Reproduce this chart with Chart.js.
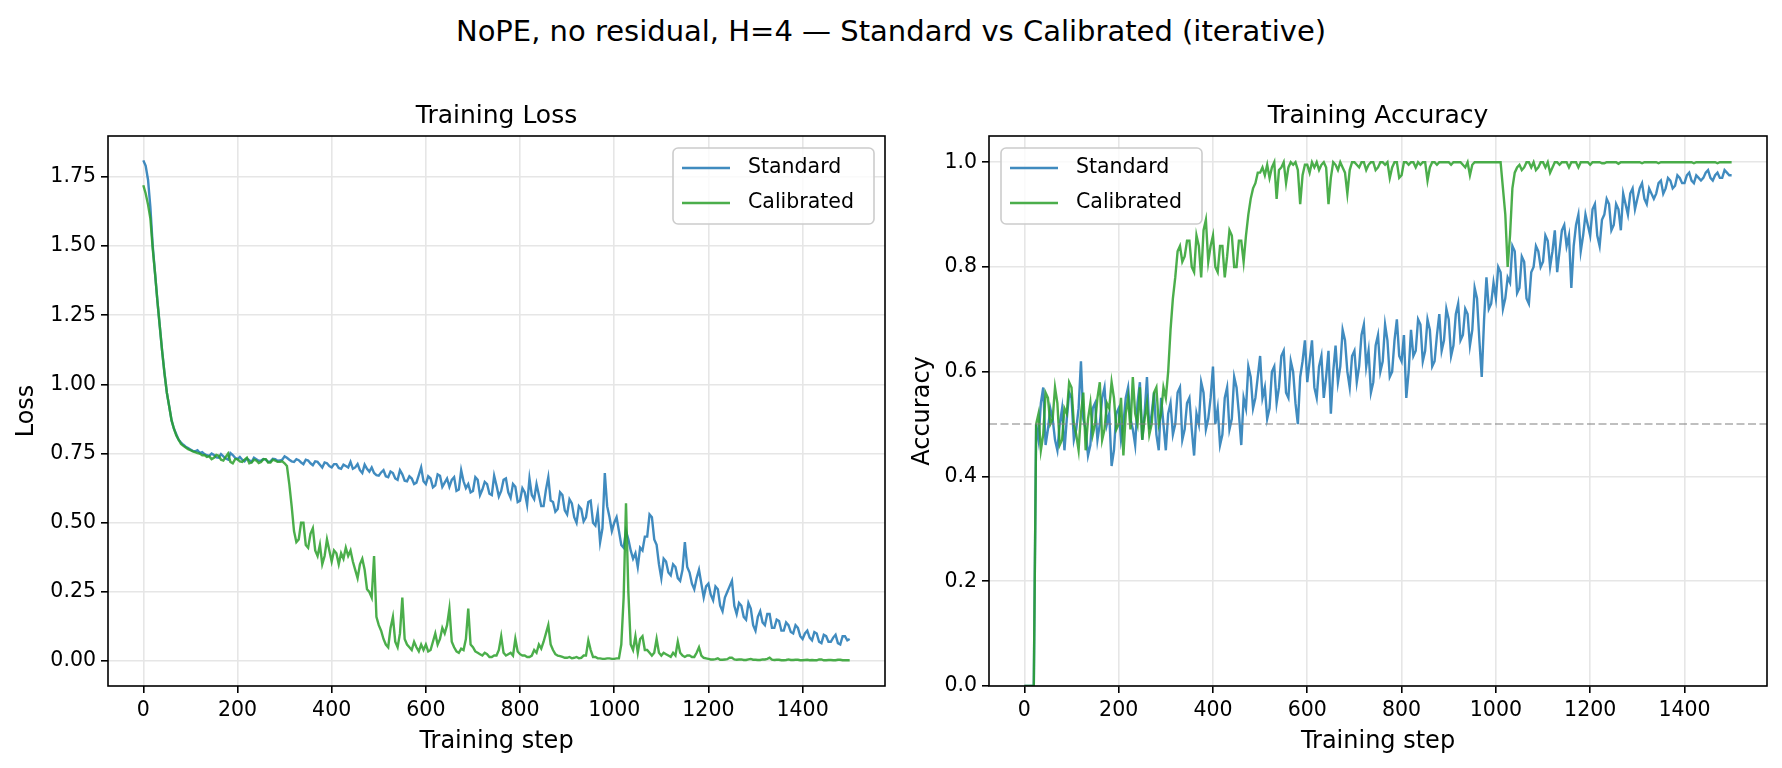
<!DOCTYPE html>
<html>
<head>
<meta charset="utf-8">
<title>NoPE, no residual, H=4</title>
<script src="https://cdn.jsdelivr.net/npm/chart.js@4.4.1/dist/chart.umd.min.js"></script>
<style>
  body { margin: 0; background: #fff; }
  #page { position: relative; width: 1782px; height: 768px; overflow: hidden; font-family: "DejaVu Sans", sans-serif; }
  #suptitle { position: absolute; left: 0; top: 13px; width: 1782px; text-align: center; font-size: 29px; line-height: 36px; color: #000; }
  .panel { position: absolute; top: 0; width: 891px; height: 768px; }
</style>
</head>
<body>
<div id="page">
  <div id="suptitle">NoPE, no residual, H=4 — Standard vs Calibrated (iterative)</div>
  <div class="panel" style="left:0"><canvas id="loss"></canvas></div>
  <div class="panel" style="left:891px"><canvas id="acc"></canvas></div>
</div>
<script>
//jshint esversion:6

// Logged training steps (every 5th step)
var steps = [
  0, 5, 10, 15, 20, 25, 30, 35, 40, 45, 50, 55, 60, 65, 70, 75, 80, 85, 90, 95,
  100, 105, 110, 115, 120, 125, 130, 135, 140, 145, 150, 155, 160, 165, 170, 175, 180, 185, 190, 195,
  200, 205, 210, 215, 220, 225, 230, 235, 240, 245, 250, 255, 260, 265, 270, 275, 280, 285, 290, 295,
  300, 305, 310, 315, 320, 325, 330, 335, 340, 345, 350, 355, 360, 365, 370, 375, 380, 385, 390, 395,
  400, 405, 410, 415, 420, 425, 430, 435, 440, 445, 450, 455, 460, 465, 470, 475, 480, 485, 490, 495,
  500, 505, 510, 515, 520, 525, 530, 535, 540, 545, 550, 555, 560, 565, 570, 575, 580, 585, 590, 595,
  600, 605, 610, 615, 620, 625, 630, 635, 640, 645, 650, 655, 660, 665, 670, 675, 680, 685, 690, 695,
  700, 705, 710, 715, 720, 725, 730, 735, 740, 745, 750, 755, 760, 765, 770, 775, 780, 785, 790, 795,
  800, 805, 810, 815, 820, 825, 830, 835, 840, 845, 850, 855, 860, 865, 870, 875, 880, 885, 890, 895,
  900, 905, 910, 915, 920, 925, 930, 935, 940, 945, 950, 955, 960, 965, 970, 975, 980, 985, 990, 995,
  1000, 1005, 1010, 1015, 1020, 1025, 1030, 1035, 1040, 1045, 1050, 1055, 1060, 1065, 1070, 1075, 1080, 1085, 1090, 1095,
  1100, 1105, 1110, 1115, 1120, 1125, 1130, 1135, 1140, 1145, 1150, 1155, 1160, 1165, 1170, 1175, 1180, 1185, 1190, 1195,
  1200, 1205, 1210, 1215, 1220, 1225, 1230, 1235, 1240, 1245, 1250, 1255, 1260, 1265, 1270, 1275, 1280, 1285, 1290, 1295,
  1300, 1305, 1310, 1315, 1320, 1325, 1330, 1335, 1340, 1345, 1350, 1355, 1360, 1365, 1370, 1375, 1380, 1385, 1390, 1395,
  1400, 1405, 1410, 1415, 1420, 1425, 1430, 1435, 1440, 1445, 1450, 1455, 1460, 1465, 1470, 1475, 1480, 1485, 1490, 1495,
  1500
];

// Training loss
var lossStandard = [
  1.81, 1.79, 1.74, 1.64, 1.50, 1.40, 1.30, 1.21, 1.12, 1.04, 0.97, 0.92, 0.87, 0.84, 0.82, 0.80, 0.79, 0.782, 0.775, 0.77,
  0.765, 0.760, 0.758, 0.762, 0.752, 0.755, 0.748, 0.744, 0.742, 0.750, 0.745, 0.736, 0.735, 0.748, 0.740, 0.732, 0.728, 0.752, 0.745, 0.735,
  0.730, 0.738, 0.728, 0.722, 0.732, 0.726, 0.720, 0.735, 0.730, 0.724, 0.725, 0.730, 0.728, 0.720, 0.722, 0.731, 0.730, 0.724, 0.725, 0.728,
  0.740, 0.735, 0.728, 0.722, 0.720, 0.730, 0.726, 0.718, 0.712, 0.728, 0.725, 0.715, 0.708, 0.722, 0.720, 0.710, 0.700, 0.718, 0.715, 0.705,
  0.700, 0.712, 0.712, 0.698, 0.695, 0.710, 0.705, 0.700, 0.720, 0.695, 0.700, 0.712, 0.690, 0.680, 0.710, 0.695, 0.685, 0.700, 0.680, 0.672,
  0.670, 0.682, 0.690, 0.668, 0.665, 0.685, 0.680, 0.660, 0.655, 0.690, 0.675, 0.652, 0.650, 0.668, 0.660, 0.640, 0.645, 0.672, 0.700, 0.650,
  0.640, 0.668, 0.660, 0.628, 0.635, 0.675, 0.670, 0.630, 0.645, 0.660, 0.630, 0.655, 0.665, 0.615, 0.620, 0.690, 0.650, 0.625, 0.640, 0.610,
  0.615, 0.665, 0.655, 0.600, 0.620, 0.648, 0.640, 0.605, 0.600, 0.670, 0.635, 0.595, 0.615, 0.655, 0.660, 0.610, 0.590, 0.640, 0.630, 0.575,
  0.580, 0.625, 0.610, 0.565, 0.660, 0.600, 0.585, 0.640, 0.600, 0.560, 0.560, 0.620, 0.665, 0.580, 0.575, 0.540, 0.550, 0.610, 0.600, 0.545,
  0.530, 0.585, 0.570, 0.520, 0.500, 0.560, 0.550, 0.505, 0.520, 0.575, 0.580, 0.500, 0.490, 0.540, 0.430, 0.480, 0.680, 0.560, 0.520, 0.470,
  0.500, 0.520, 0.470, 0.420, 0.410, 0.470, 0.440, 0.400, 0.370, 0.390, 0.340, 0.410, 0.400, 0.450, 0.450, 0.530, 0.520, 0.440, 0.420, 0.350,
  0.300, 0.370, 0.360, 0.320, 0.310, 0.350, 0.340, 0.300, 0.290, 0.330, 0.430, 0.340, 0.320, 0.280, 0.260, 0.300, 0.330, 0.280, 0.230, 0.270,
  0.280, 0.240, 0.220, 0.270, 0.260, 0.200, 0.180, 0.230, 0.250, 0.270, 0.290, 0.200, 0.170, 0.210, 0.200, 0.160, 0.150, 0.210, 0.190, 0.130,
  0.110, 0.160, 0.180, 0.140, 0.130, 0.170, 0.170, 0.120, 0.120, 0.150, 0.145, 0.110, 0.110, 0.140, 0.130, 0.105, 0.100, 0.130, 0.120, 0.090,
  0.080, 0.100, 0.110, 0.085, 0.075, 0.105, 0.100, 0.070, 0.065, 0.095, 0.090, 0.070, 0.070, 0.085, 0.095, 0.065, 0.060, 0.090, 0.090, 0.075,
  0.080
];
var lossCalibrated = [
  1.72, 1.69, 1.65, 1.60, 1.49, 1.40, 1.30, 1.21, 1.12, 1.04, 0.97, 0.92, 0.87, 0.84, 0.815, 0.80, 0.785, 0.778, 0.772, 0.766,
  0.762, 0.758, 0.755, 0.752, 0.750, 0.744, 0.745, 0.738, 0.740, 0.730, 0.735, 0.745, 0.742, 0.728, 0.725, 0.738, 0.750, 0.720, 0.715, 0.730,
  0.730, 0.722, 0.720, 0.728, 0.735, 0.715, 0.718, 0.728, 0.725, 0.716, 0.720, 0.730, 0.730, 0.718, 0.718, 0.728, 0.725, 0.720, 0.720, 0.722,
  0.715, 0.705, 0.640, 0.560, 0.470, 0.430, 0.440, 0.500, 0.500, 0.420, 0.410, 0.460, 0.480, 0.400, 0.380, 0.420, 0.350, 0.380, 0.440, 0.400,
  0.360, 0.400, 0.390, 0.350, 0.390, 0.370, 0.410, 0.380, 0.400, 0.360, 0.330, 0.300, 0.350, 0.370, 0.330, 0.260, 0.250, 0.230, 0.380, 0.160,
  0.130, 0.110, 0.080, 0.060, 0.050, 0.120, 0.160, 0.070, 0.050, 0.100, 0.230, 0.080, 0.060, 0.050, 0.040, 0.070, 0.050, 0.035, 0.060, 0.040,
  0.060, 0.035, 0.040, 0.070, 0.100, 0.060, 0.080, 0.120, 0.100, 0.130, 0.190, 0.070, 0.050, 0.035, 0.030, 0.045, 0.040, 0.080, 0.190, 0.060,
  0.050, 0.035, 0.030, 0.025, 0.020, 0.030, 0.025, 0.015, 0.015, 0.020, 0.020, 0.040, 0.090, 0.030, 0.020, 0.025, 0.030, 0.020, 0.080, 0.035,
  0.025, 0.020, 0.020, 0.015, 0.015, 0.020, 0.040, 0.030, 0.060, 0.045, 0.070, 0.100, 0.130, 0.060, 0.040, 0.025, 0.020, 0.018, 0.015, 0.012,
  0.012, 0.015, 0.010, 0.012, 0.015, 0.010, 0.012, 0.020, 0.020, 0.075, 0.040, 0.015, 0.015, 0.010, 0.010, 0.008, 0.008, 0.010, 0.010, 0.008,
  0.008, 0.010, 0.010, 0.060, 0.230, 0.570, 0.250, 0.060, 0.040, 0.090, 0.030, 0.080, 0.090, 0.040, 0.040, 0.030, 0.020, 0.030, 0.080, 0.030,
  0.020, 0.030, 0.025, 0.020, 0.015, 0.030, 0.020, 0.070, 0.030, 0.020, 0.015, 0.020, 0.020, 0.015, 0.015, 0.030, 0.050, 0.020, 0.012, 0.010,
  0.008, 0.006, 0.006, 0.007, 0.010, 0.005, 0.005, 0.006, 0.007, 0.012, 0.012, 0.006, 0.005, 0.006, 0.006, 0.004, 0.004, 0.006, 0.008, 0.005,
  0.005, 0.004, 0.004, 0.006, 0.006, 0.008, 0.012, 0.005, 0.004, 0.005, 0.005, 0.003, 0.003, 0.004, 0.006, 0.004, 0.004, 0.005, 0.005, 0.003,
  0.003, 0.004, 0.005, 0.003, 0.004, 0.003, 0.003, 0.006, 0.006, 0.003, 0.003, 0.004, 0.004, 0.003, 0.003, 0.005, 0.005, 0.003, 0.003, 0.003,
  0.003
];

// Training accuracy
var accStandard = [
  0, 0, 0, 0, 0, 0.50, 0.47, 0.54, 0.57, 0.46, 0.49, 0.53, 0.51, 0.47, 0.45, 0.50, 0.53, 0.45, 0.51, 0.56,
  0.55, 0.47, 0.49, 0.53, 0.62, 0.51, 0.49, 0.44, 0.46, 0.53, 0.54, 0.47, 0.50, 0.55, 0.57, 0.50, 0.52, 0.42, 0.45, 0.52,
  0.53, 0.47, 0.50, 0.55, 0.57, 0.51, 0.49, 0.46, 0.54, 0.58, 0.47, 0.52, 0.59, 0.49, 0.52, 0.56, 0.48, 0.45, 0.55, 0.50,
  0.45, 0.52, 0.54, 0.48, 0.50, 0.56, 0.57, 0.47, 0.49, 0.54, 0.55, 0.49, 0.44, 0.52, 0.50, 0.58, 0.56, 0.49, 0.51, 0.55,
  0.61, 0.50, 0.53, 0.46, 0.48, 0.55, 0.57, 0.49, 0.51, 0.59, 0.57, 0.52, 0.46, 0.55, 0.53, 0.61, 0.59, 0.53, 0.55, 0.59,
  0.63, 0.55, 0.57, 0.51, 0.53, 0.60, 0.61, 0.54, 0.57, 0.63, 0.64, 0.56, 0.55, 0.62, 0.60, 0.54, 0.50, 0.59, 0.62, 0.66,
  0.58, 0.62, 0.66, 0.57, 0.55, 0.61, 0.63, 0.55, 0.59, 0.64, 0.52, 0.60, 0.65, 0.58, 0.61, 0.68, 0.66, 0.60, 0.57, 0.63,
  0.64, 0.58, 0.61, 0.67, 0.69, 0.61, 0.64, 0.56, 0.58, 0.65, 0.67, 0.60, 0.62, 0.69, 0.66, 0.59, 0.60, 0.66, 0.70, 0.63,
  0.62, 0.67, 0.55, 0.60, 0.68, 0.63, 0.64, 0.70, 0.69, 0.62, 0.64, 0.70, 0.68, 0.61, 0.62, 0.67, 0.71, 0.64, 0.66, 0.72,
  0.70, 0.63, 0.65, 0.71, 0.73, 0.66, 0.67, 0.72, 0.71, 0.65, 0.68, 0.76, 0.74, 0.66, 0.59, 0.70, 0.78, 0.72, 0.73, 0.77,
  0.74, 0.80, 0.79, 0.72, 0.74, 0.78, 0.77, 0.84, 0.83, 0.75, 0.76, 0.82, 0.81, 0.74, 0.73, 0.79, 0.80, 0.84, 0.83, 0.80,
  0.81, 0.86, 0.85, 0.80, 0.83, 0.87, 0.79, 0.83, 0.87, 0.88, 0.84, 0.86, 0.76, 0.84, 0.88, 0.90, 0.83, 0.86, 0.90, 0.88,
  0.86, 0.91, 0.92, 0.86, 0.84, 0.89, 0.90, 0.93, 0.92, 0.87, 0.88, 0.92, 0.91, 0.87, 0.94, 0.92, 0.90, 0.94, 0.95, 0.91,
  0.93, 0.95, 0.96, 0.93, 0.92, 0.95, 0.94, 0.93, 0.94, 0.96, 0.965, 0.94, 0.95, 0.97, 0.965, 0.95, 0.955, 0.975, 0.97, 0.96,
  0.96, 0.975, 0.98, 0.965, 0.96, 0.975, 0.97, 0.965, 0.97, 0.98, 0.985, 0.97, 0.965, 0.975, 0.98, 0.97, 0.97, 0.985, 0.98, 0.975,
  0.975
];
var accCalibrated = [
  0, 0, 0, 0, 0, 0.50, 0.52, 0.45, 0.48, 0.56, 0.55, 0.50, 0.51, 0.57, 0.54, 0.46, 0.47, 0.53, 0.52, 0.58,
  0.57, 0.50, 0.48, 0.45, 0.52, 0.56, 0.45, 0.51, 0.54, 0.48, 0.50, 0.55, 0.58, 0.47, 0.49, 0.54, 0.53, 0.58, 0.55, 0.49,
  0.50, 0.55, 0.44, 0.52, 0.55, 0.49, 0.59, 0.52, 0.50, 0.57, 0.47, 0.51, 0.54, 0.48, 0.50, 0.56, 0.57, 0.50, 0.52, 0.57,
  0.55, 0.60, 0.68, 0.74, 0.78, 0.83, 0.84, 0.81, 0.82, 0.85, 0.85, 0.80, 0.79, 0.86, 0.84, 0.78, 0.87, 0.89, 0.81, 0.84,
  0.86, 0.80, 0.79, 0.84, 0.84, 0.78, 0.82, 0.87, 0.86, 0.80, 0.80, 0.85, 0.85, 0.81, 0.86, 0.90, 0.93, 0.95, 0.96, 0.98,
  0.98, 0.99, 0.975, 0.995, 0.97, 0.99, 1.0, 0.93, 0.985, 0.99, 1.0, 0.96, 0.99, 1.0, 0.995, 1.0, 0.985, 0.92, 0.975, 0.995,
  0.995, 0.98, 1.0, 0.99, 1.0, 0.985, 0.995, 1.0, 0.99, 0.92, 0.97, 1.0, 0.995, 0.985, 1.0, 0.99, 0.98, 0.94, 0.985, 1.0,
  1.0, 0.995, 0.99, 1.0, 1.0, 0.985, 0.995, 1.0, 1.0, 0.985, 0.99, 1.0, 1.0, 0.995, 1.0, 0.97, 0.99, 1.0, 1.0, 0.97,
  0.975, 1.0, 1.0, 0.995, 1.0, 1.0, 0.99, 1.0, 0.995, 1.0, 1.0, 0.965, 0.99, 1.0, 1.0, 0.995, 1.0, 1.0, 1.0, 1.0,
  1.0, 0.995, 1.0, 1.0, 1.0, 1.0, 0.995, 0.99, 1.0, 0.975, 0.995, 1.0, 1.0, 1.0, 1.0, 1.0, 1.0, 1.0, 1.0, 1.0,
  1.0, 1.0, 1.0, 0.95, 0.90, 0.80, 0.86, 0.95, 0.98, 0.99, 0.995, 0.985, 0.99, 1.0, 1.0, 0.99, 1.0, 0.985, 0.99, 1.0,
  1.0, 0.99, 1.0, 0.98, 0.99, 1.0, 1.0, 0.995, 1.0, 1.0, 1.0, 0.99, 1.0, 1.0, 1.0, 0.99, 1.0, 1.0, 1.0, 1.0,
  0.995, 1.0, 1.0, 1.0, 1.0, 0.998, 0.998, 1.0, 1.0, 1.0, 1.0, 1.0, 0.997, 1.0, 1.0, 1.0, 1.0, 1.0, 1.0, 1.0,
  1.0, 1.0, 0.998, 1.0, 1.0, 1.0, 1.0, 1.0, 1.0, 0.998, 1.0, 1.0, 1.0, 1.0, 1.0, 1.0, 1.0, 1.0, 1.0, 1.0,
  1.0, 1.0, 1.0, 1.0, 0.998, 1.0, 1.0, 1.0, 1.0, 1.0, 1.0, 1.0, 1.0, 1.0, 0.998, 1.0, 1.0, 1.0, 1.0, 1.0,
  1.0
];

// Tick labels
var stepTicks = [0, 200, 400, 600, 800, 1000, 1200, 1400];
var lossTicks = [0, 0.25, 0.5, 0.75, 1, 1.25, 1.5, 1.75];
var accTicks = [0, 0.2, 0.4, 0.6, 0.8, 1];
var chanceLevel = 0.5;

var blue = 'rgba(31, 119, 180, 0.85)';
var green = 'rgba(44, 160, 44, 0.85)';
var gridColor = '#e6e6e6';

Chart.defaults.font.family = '"DejaVu Sans", sans-serif';
Chart.defaults.color = '#000';

function points(values) {
  return values.map(function (v, i) { return {x: steps[i], y: v}; });
}

// frame, dashed chance line and in-axes legend, matplotlib style
var framePlugin = {
  id: 'frame',
  afterDatasetsDraw: function (chart, args, opts) {
    var a = chart.chartArea;
    var ctx = chart.ctx;
    ctx.save();

    if (opts.hline !== undefined) {
      var y = chart.scales.y.getPixelForValue(opts.hline);
      ctx.strokeStyle = 'rgba(128, 128, 128, 0.5)';
      ctx.lineWidth = 2;
      ctx.setLineDash([8, 3.5]);
      ctx.beginPath();
      ctx.moveTo(a.left, y);
      ctx.lineTo(a.right, y);
      ctx.stroke();
      ctx.setLineDash([]);
    }

    // legend box
    var w = 201, h = 76, r = 5;
    var left = opts.legend === 'right' ? a.right - 11 - w : a.left + 12;
    var top = a.top + 12;
    ctx.beginPath();
    ctx.moveTo(left + r, top);
    ctx.arcTo(left + w, top, left + w, top + h, r);
    ctx.arcTo(left + w, top + h, left, top + h, r);
    ctx.arcTo(left, top + h, left, top, r);
    ctx.arcTo(left, top, left + w, top, r);
    ctx.closePath();
    ctx.fillStyle = 'rgba(255, 255, 255, 0.8)';
    ctx.fill();
    ctx.strokeStyle = '#cccccc';
    ctx.lineWidth = 1.6;
    ctx.stroke();

    ctx.font = '20.5px "DejaVu Sans", sans-serif';
    ctx.textBaseline = 'middle';
    ctx.textAlign = 'left';
    chart.data.datasets.forEach(function (ds, i) {
      var cy = top + 20 + i * 35;
      ctx.strokeStyle = ds.borderColor;
      ctx.lineWidth = 2.4;
      ctx.beginPath();
      ctx.moveTo(left + 9, cy);
      ctx.lineTo(left + 57, cy);
      ctx.stroke();
      ctx.fillStyle = '#000';
      ctx.fillText(ds.label, left + 75, cy);
    });

    // spines
    ctx.strokeStyle = '#000';
    ctx.lineWidth = 1.6;
    ctx.strokeRect(a.left, a.top, a.right - a.left, a.bottom - a.top);
    ctx.restore();
  }
};

function stepAxis() {
  return {
    type: 'linear',
    min: -75,
    max: 1575,
    afterBuildTicks: function (s) { s.ticks = stepTicks.map(function (v) { return {value: v}; }); },
    afterFit: function (s) { s.height = 82; },
    ticks: {
      callback: function (v) { return String(v); },
      font: {size: 20.5},
      padding: 5,
      maxRotation: 0,
      autoSkip: false
    },
    grid: {color: gridColor, lineWidth: 1.6, tickColor: '#000', tickLength: 7, tickWidth: 1.6},
    border: {display: false},
    title: {display: true, text: 'Training step', font: {size: 24}, padding: {top: 0, bottom: 11.6}}
  };
}

function valueAxis(min, max, ticks, decimals, label, width, titlePad) {
  return {
    type: 'linear',
    min: min,
    max: max,
    afterBuildTicks: function (s) { s.ticks = ticks.map(function (v) { return {value: v}; }); },
    afterFit: function (s) { s.width = width; },
    ticks: {
      callback: function (v) { return v.toFixed(decimals); },
      font: {size: 20.5},
      padding: 5,
      autoSkip: false
    },
    grid: {color: gridColor, lineWidth: 1.6, tickColor: '#000', tickLength: 7, tickWidth: 1.6},
    border: {display: false},
    title: {display: true, text: label, font: {size: 24}, padding: {top: titlePad, bottom: 0}}
  };
}

function panelOptions(title, yAxis, padRight, frameOpts) {
  return {
    responsive: true,
    maintainAspectRatio: false,
    animation: false,
    events: [],
    layout: {padding: {top: 101, right: padRight, bottom: 0, left: 0}},
    elements: {line: {borderWidth: 2.4, tension: 0, fill: false}, point: {radius: 0}},
    scales: {x: stepAxis(), y: yAxis},
    plugins: {
      legend: {display: false},
      tooltip: {enabled: false},
      title: {
        display: true,
        text: title,
        fullSize: false,
        font: {size: 25, weight: 'normal'},
        padding: {top: 0, bottom: 5}
      },
      frame: frameOpts
    }
  };
}

var ctx = document.getElementById('loss').getContext('2d');
var chart = new Chart(ctx, {
  type: 'line',
  data: {
    datasets: [
      {label: 'Standard', data: points(lossStandard), borderColor: blue, order: 1},
      {label: 'Calibrated', data: points(lossCalibrated), borderColor: green, order: 0}
    ]
  },
  options: panelOptions('Training Loss', valueAxis(-0.09, 1.898, lossTicks, 2, 'Loss', 108, 12.6), 6, {legend: 'right'}),
  plugins: [framePlugin]
});

var ctx = document.getElementById('acc').getContext('2d');
var chart = new Chart(ctx, {
  type: 'line',
  data: {
    datasets: [
      {label: 'Standard', data: points(accStandard), borderColor: blue, order: 1},
      {label: 'Calibrated', data: points(accCalibrated), borderColor: green, order: 0}
    ]
  },
  options: panelOptions('Training Accuracy', valueAxis(0, 1.05, accTicks, 1, 'Accuracy', 98, 17.6), 15, {legend: 'left', hline: chanceLevel}),
  plugins: [framePlugin]
});
</script>
</body>
</html>
